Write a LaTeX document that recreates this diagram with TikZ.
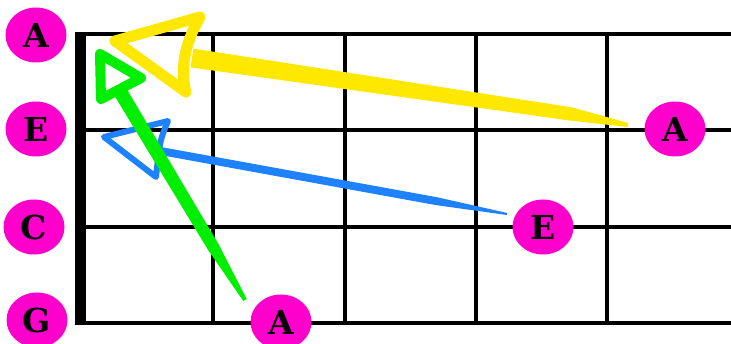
\documentclass[tikz,border=0pt]{standalone}
\usepackage{fontspec}
\newfontfamily\notefont{DejaVu Serif}
\usetikzlibrary{shapes.geometric}
\definecolor{mag}{HTML}{FF00CC}
\definecolor{yel}{HTML}{FFE800}
\definecolor{grn}{HTML}{00EE00}
\definecolor{blu}{HTML}{1E82FF}
\tikzset{
  note/.style={ellipse, fill=mag, minimum width=61pt, minimum height=55pt, inner sep=0pt,
    font=\notefont\bfseries\fontsize{33}{33}\selectfont},
  wire/.style={line width=4pt, black},
  nutline/.style={line width=11pt, black},
  headline/.style={line join=round, line cap=round}
}
\begin{document}
\begin{tikzpicture}[x=1pt,y=-1pt]
\useasboundingbox (0,0) rectangle (731,344);
\fill[white] (0,0) rectangle (731,344);
% strings
\foreach \yy in {34,130,227,323} \draw[wire] (80,\yy) -- (731,\yy);
% frets
\foreach \xx in {213,345,476,607} \draw[wire] (\xx,34) -- (\xx,323);
% nut
\draw[nutline] (80.5,32) -- (80.5,325);
% string names
\node[note] (sA) at (36,35) {A};
\node[note] (sE) at (36,129) {E};
\node[note] (sC) at (34,227) {C};
\node[note] (sG) at (37,320) {G};
% fretted notes
\node[note] (nA1) at (675,129) {A};
\node[note] (nE) at (543,227) {E};
\node[note] (nA2) at (281,322) {A};
% yellow arrow
\fill[yel] (193.4,48.6) -- (571.5,107.3) -- (628.3,123) -- (627.7,127) -- (569.5,120.5) -- (190.6,67.4) -- cycle;
\draw[yel, line width=11pt, headline] (115,41) -- (200,17) .. controls (184,45) and (180,70) .. (186,92) -- cycle;
% blue arrow
\fill[blu] (155.7,146.1) -- (437.3,197.3) -- (507.2,213) -- (506.8,215) -- (435.9,205.1) -- (154.3,153.9) -- cycle;
\draw[blu, line width=6pt, headline] (104,137) -- (168,121) .. controls (160,140) .. (156,177) -- cycle;
% green arrow
\fill[grn] (124,84.4) -- (218.4,243.9) -- (246.7,299) -- (243.3,301) -- (208.2,250.1) -- (112,91.6) -- cycle;
\draw[grn, line width=10pt, headline] (100,54) -- (141,78) -- (101,99) -- cycle;
\end{tikzpicture}
\end{document}
